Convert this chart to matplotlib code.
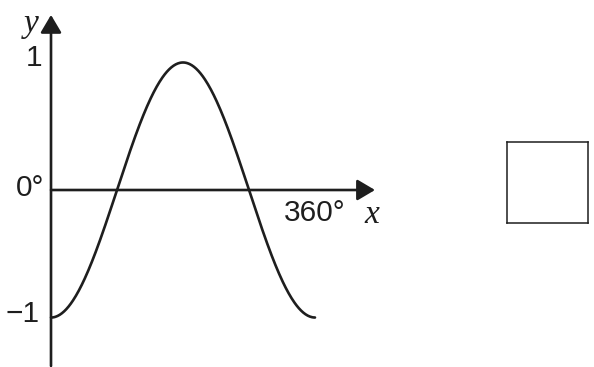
import numpy as np
import matplotlib.pyplot as plt

# graph of y = -cos(x) for 0..360 degrees
x_start = 0
x_end = 360
y_ticks = [1, 0, -1]
y_tick_labels = ['1', '0°', '−1']
x_tick_label = '360°'

ink = '#1e1e1e'

fig = plt.figure(figsize=(5.94, 3.67), dpi=100)
ax = fig.add_axes([0, 0, 1, 1])
ax.set_xlim(-69.55, 740.45)
ax.set_ylim(-1.388, 1.490)
ax.axis('off')

deg = np.linspace(x_start, x_end, 361)
ax.plot(deg, -np.cos(np.radians(deg)), color=ink, lw=1.9, solid_capstyle='round')

# axes with arrow heads
arrow = dict(arrowstyle='-|>,head_length=0.54,head_width=0.32', mutation_scale=20,
             lw=1.9, color=ink, shrinkA=0, shrinkB=0)
ax.annotate('', xy=(441.8, 0), xytext=(0, 0), arrowprops=arrow)
ax.annotate('', xy=(0, 1.373), xytext=(0, -1.38), arrowprops=arrow)

# y tick labels
offsets = [(-6.5, 3.5), (-5, 1.5), (-8, 2.5)]
for val, lab, off in zip(y_ticks, y_tick_labels, offsets):
    ax.annotate(lab, xy=(0, val), xytext=off, textcoords='offset points',
                ha='right', va='center', fontsize=21.5, color=ink,
                family='Liberation Sans')

ax.annotate(x_tick_label, xy=(x_end, 0), xytext=(0, -16.5), textcoords='offset points',
            ha='center', va='center', fontsize=21.5, color=ink, family='Liberation Sans')

ax.annotate('x', xy=(x_end, 0), xytext=(41, -18), textcoords='offset points',
            ha='center', va='center', fontsize=24, style='italic', color=ink,
            family='Liberation Serif')
ax.annotate('y', xy=(0, 1.373), xytext=(-14, -6), textcoords='offset points',
            ha='center', va='center', fontsize=24, style='italic', color=ink,
            family='Liberation Serif')

# empty answer box on the right
box = fig.add_axes([507 / 594, (367 - 223) / 367, 81 / 594, 81 / 367])
box.set_xticks([])
box.set_yticks([])
for s in box.spines.values():
    s.set_linewidth(1.1)
    s.set_color(ink)

fig.savefig('out.png', dpi=100)
